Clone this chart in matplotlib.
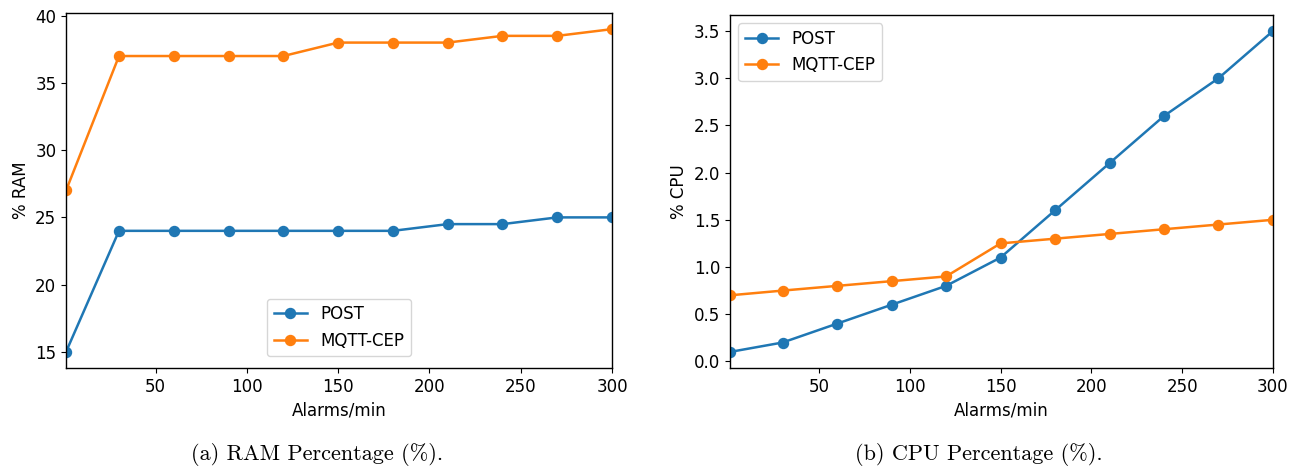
import matplotlib
matplotlib.use("Agg")
from matplotlib import pyplot as plt

alarms = [1, 30, 60, 90, 120, 150, 180, 210, 240, 270, 300]
series = ["POST", "MQTT-CEP"]

ram_post = [15, 24, 24, 24, 24, 24, 24, 24.5, 24.5, 25, 25]
ram_mqtt = [27, 37, 37, 37, 37, 38, 38, 38, 38.5, 38.5, 39]

cpu_post = [0.1, 0.2, 0.4, 0.6, 0.8, 1.1, 1.6, 2.1, 2.6, 3.0, 3.5]
cpu_mqtt = [0.7, 0.75, 0.8, 0.85, 0.9, 1.25, 1.3, 1.35, 1.4, 1.45, 1.5]

captions = ["(a) RAM Percentage (%).", "(b) CPU Percentage (%)."]

plt.rcParams['font.size'] = 12
plt.rcParams['lines.linewidth'] = 1.8
plt.rcParams['lines.markersize'] = 7.2
plt.rcParams['axes.linewidth'] = 1.0

fig = plt.figure(figsize=(13, 4.71), dpi=100)
ax1 = fig.add_axes([0.0508, 0.2187, 0.4200, 0.7537])
ax2 = fig.add_axes([0.5615, 0.2187, 0.4177, 0.7495])

# RAM
ax1.plot(alarms, ram_post, marker='o', label=series[0])
ax1.plot(alarms, ram_mqtt, marker='o', label=series[1])
ax1.set_xlim(alarms[0], alarms[-1])
ax1.set_xticks([50, 100, 150, 200, 250, 300])
ax1.set_xlabel("Alarms/min")
ax1.set_ylabel("% RAM")
ax1.legend(loc='lower center', borderaxespad=0.7)

# CPU
ax2.plot(alarms, cpu_post, marker='o', label=series[0])
ax2.plot(alarms, cpu_mqtt, marker='o', label=series[1])
ax2.set_xlim(alarms[0], alarms[-1])
ax2.set_xticks([50, 100, 150, 200, 250, 300])
ax2.set_xlabel("Alarms/min")
ax2.set_ylabel("% CPU")
ax2.legend(loc='upper left')

fig.text(0.244, 0.036, captions[0], ha='center', va='center',
         fontfamily='cmr10', fontsize=16)
fig.text(0.753, 0.036, captions[1], ha='center', va='center',
         fontfamily='cmr10', fontsize=16)

fig.savefig("out.png", dpi=100)
